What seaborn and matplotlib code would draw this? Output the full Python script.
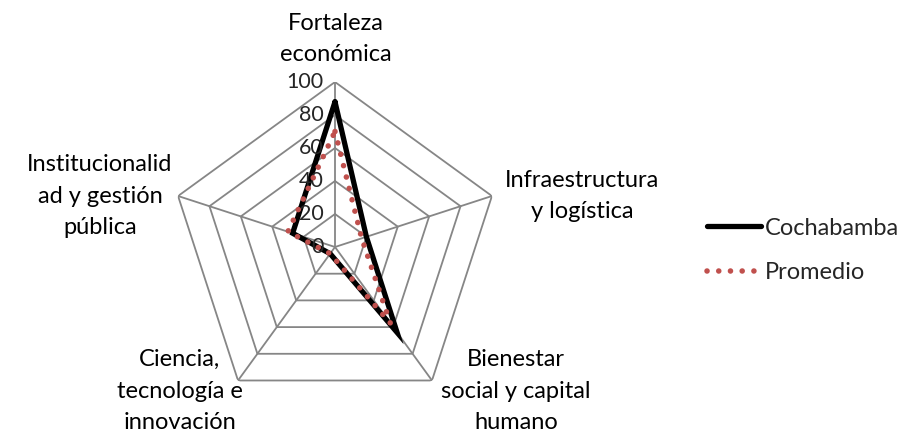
import numpy as np
import pandas as pd
import matplotlib
matplotlib.use("Agg")
import matplotlib.pyplot as plt
import seaborn as sns

# datos
categorias = ["Fortaleza\neconómica", "Infraestructura\ny logística",
              "Bienestar\nsocial y capital\nhumano", "Ciencia,\ntecnología e\ninnovación",
              "Institucionalid\nad y gestión\npública"]
cochabamba = [88, 20, 64, 5, 27]
promedio = [70, 17, 57, 5, 30]
niveles = [0, 20, 40, 60, 80, 100]

sns.set_style("white")
plt.rcParams["font.family"] = ["Lato", "DejaVu Sans"]

n = len(categorias)
ang = [2 * np.pi * i / n for i in range(n)]
ang_c = ang + [2 * np.pi]

df = pd.concat([
    pd.DataFrame({"theta": ang_c, "valor": cochabamba + cochabamba[:1], "serie": "Cochabamba"}),
    pd.DataFrame({"theta": ang_c, "valor": promedio + promedio[:1], "serie": "Promedio"}),
])

W, H = 910, 434
cx, cy, R = 335, 247, 165
fig = plt.figure(figsize=(W / 100, H / 100), dpi=100)
ax = fig.add_axes([(cx - R) / W, (H - cy - R) / H, 2 * R / W, 2 * R / H], projection="polar")
ax.set_theta_offset(np.pi / 2)
ax.set_theta_direction(-1)
ax.set_ylim(0, 100)
ax.grid(False)
ax.spines["polar"].set_visible(False)
ax.set_xticks([])
ax.set_yticks([])

gris = "#868686"
for r in niveles[1:]:
    ax.plot(ang_c, [r] * len(ang_c), color=gris, lw=1.3, zorder=1)
for a in ang:
    ax.plot([a, a], [0, 100], color=gris, lw=1.3, zorder=1)

for r in niveles:
    ax.annotate(str(r), xy=(0, r), xytext=(-8, 0), textcoords="offset points",
                ha="right", va="center", fontsize=15.5, color="#262626")

sns.lineplot(data=df[df.serie == "Promedio"], x="theta", y="valor", ax=ax, sort=False,
             estimator=None, color="#C0504D", lw=4, linestyle=(0, (0.01, 2.1)),
             dash_capstyle="round", zorder=3, label="Promedio")
sns.lineplot(data=df[df.serie == "Cochabamba"], x="theta", y="valor", ax=ax, sort=False,
             estimator=None, color="black", lw=3.8, solid_joinstyle="miter",
             zorder=2, label="Cochabamba")
ax.set_xlabel("")
ax.set_ylabel("")

# etiquetas de categorías
pos = [(336, 39), (582, 196), (516, 391), (180, 391), (100, 196)]
for txt, (px, py) in zip(categorias, pos):
    fig.text(px / W, 1 - py / H, txt, ha="center", va="center", fontsize=17,
             linespacing=1.6, color="black")

h, l = ax.get_legend_handles_labels()
orden = [l.index("Cochabamba"), l.index("Promedio")]
ax.legend([h[i] for i in orden], [l[i] for i in orden], loc="center left",
          bbox_to_anchor=(707 / W, 1 - 250.5 / H), bbox_transform=fig.transFigure,
          frameon=False, fontsize=17, handlelength=2.3, handletextpad=0.15,
          labelspacing=1.0, borderpad=0, borderaxespad=0)

fig.savefig("out.png", dpi=100)
